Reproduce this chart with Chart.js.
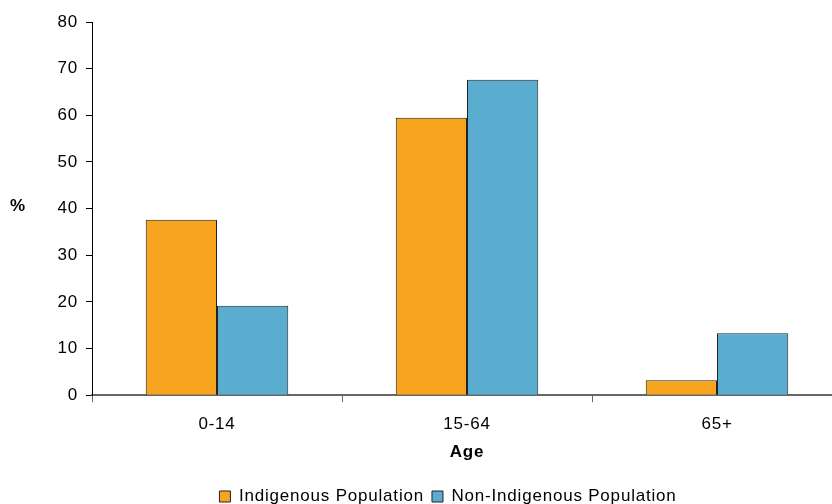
<!DOCTYPE html>
<html>
<head>
<meta charset="utf-8">
<script src="https://cdn.jsdelivr.net/npm/chart.js@4"></script>
<style>
  html, body { margin: 0; padding: 0; background: #fff; overflow: hidden; }
  #wrap { position: relative; width: 850px; height: 504px; }
</style>
</head>
<body>
<div id="wrap"><canvas id="chart"></canvas></div>
<script>
const ageGroups = ["0-14", "15-64", "65+"];
const indigenous = [37.6, 59.5, 3.2];
const nonIndigenous = [19.2, 67.6, 13.3];
const yTicks = [0, 10, 20, 30, 40, 50, 60, 70, 80];

const FONT = "'Liberation Sans', Arial, sans-serif";
Chart.defaults.font.family = FONT;
Chart.defaults.font.size = 17;
Chart.defaults.color = "#000";

// reference text is set wide; resizing the canvas resets the context, so set it again each pass
const TRACK = "0.8px";
const spacing = {
  id: "spacing",
  beforeUpdate(chart) { chart.ctx.letterSpacing = TRACK; },
  beforeLayout(chart) { chart.ctx.letterSpacing = TRACK; },
  beforeDraw(chart) { chart.ctx.letterSpacing = TRACK; }
};

// "%" is drawn horizontally, left of the y axis
const yLabel = {
  id: "yLabel",
  afterDraw(chart) {
    const ctx = chart.ctx;
    const y = chart.scales.y;
    ctx.save();
    ctx.font = "bold 17px " + FONT;
    ctx.fillStyle = "#000";
    ctx.textAlign = "left";
    ctx.textBaseline = "middle";
    ctx.fillText("%", 10, y.getPixelForValue(40) - 2);
    ctx.restore();
  }
};

new Chart(document.getElementById("chart"), {
  type: "bar",
  data: {
    labels: ageGroups,
    datasets: [
      { label: "Indigenous Population", data: indigenous,
        backgroundColor: "#F7A51F", borderColor: "#222", borderWidth: 1 },
      { label: "Non-Indigenous Population", data: nonIndigenous,
        backgroundColor: "#5AADCE", borderColor: "#222", borderWidth: 1 }
    ]
  },
  options: {
    responsive: true,
    maintainAspectRatio: false,
    animation: false,
    categoryPercentage: 0.57,
    barPercentage: 1,
    layout: { padding: { left: 54, right: 8, top: 22, bottom: -11 } },
    plugins: {
      legend: {
        position: "bottom",
        labels: { boxWidth: 11, boxHeight: 11, padding: 8, font: { size: 17 } }
      },
      tooltip: { enabled: false }
    },
    scales: {
      x: {
        grid: { drawOnChartArea: false, tickLength: 7, color: "#666", lineWidth: 1 },
        border: { color: "#666", width: 2 },
        ticks: { padding: 12 },
        title: { display: true, text: "Age", font: { weight: "bold", size: 17 }, padding: { top: -4, bottom: 17 } }
      },
      y: {
        min: 0, max: 80,
        afterFit(s) { s.width = 38; },
        afterBuildTicks(s) { s.ticks = yTicks.map(v => ({ value: v })); },
        grid: { drawOnChartArea: false, tickLength: 6, color: "#000" },
        border: { color: "#000", width: 1 },
        ticks: { padding: 8 }
      }
    }
  },
  plugins: [spacing, yLabel]
});
</script>
</body>
</html>
